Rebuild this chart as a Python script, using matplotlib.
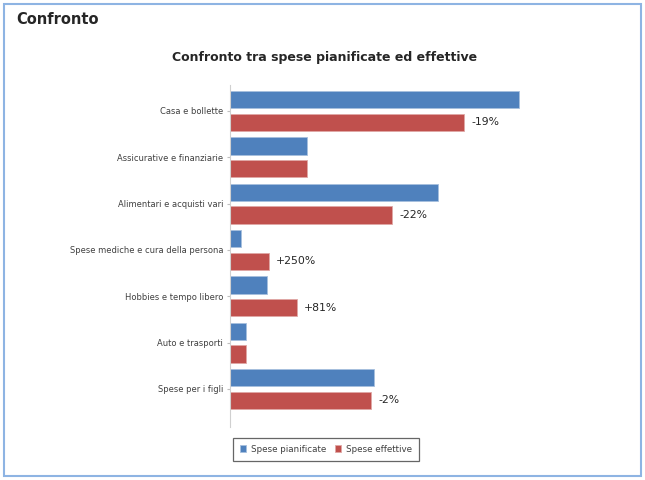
import matplotlib.pyplot as plt
from matplotlib.patches import Rectangle
import numpy as np

categorie = ["Casa e bollette", "Assicurative e finanziarie", "Alimentari e acquisti vari",
             "Spese mediche e cura della persona", "Hobbies e tempo libero",
             "Auto e trasporti", "Spese per i figli"]
pianificate = [2890, 770, 2080, 110, 370, 160, 1440]
effettive = [2340, 770, 1620, 385, 670, 160, 1410]
variazioni = ["-19%", "", "-22%", "+250%", "+81%", "", "-2%"]

blu = "#4F81BD"
rosso = "#C0504D"

fig = plt.figure(figsize=(6.45, 4.8), dpi=100)

# cornice esterna
fig.patches.append(Rectangle((4 / 645, 4 / 480), 637 / 645, 472 / 480, transform=fig.transFigure,
                             fill=False, edgecolor="#8EB4E3", linewidth=1.5))
fig.text(16 / 645, 1 - 20 / 480, "Confronto", fontsize=10.5, fontweight="bold",
         color="#262626", va="center", ha="left")
fig.text(325 / 645, 1 - 58 / 480, "Confronto tra spese pianificate ed effettive", fontsize=9,
         fontweight="bold", color="#262626", va="center", ha="center")

ax = fig.add_axes([230 / 645, 53 / 480, 370 / 645, 342 / 480])
y = np.arange(len(categorie))
h = 0.37
ax.barh(y - 0.245, pianificate, height=h, color=blu, edgecolor="#A7BFDE", linewidth=0.6,
        label="Spese pianificate")
ax.barh(y + 0.245, effettive, height=h, color=rosso, edgecolor="#E0A8A6", linewidth=0.6,
        label="Spese effettive")

for i, txt in enumerate(variazioni):
    if txt:
        ax.text(effettive[i] + 70, y[i] + 0.245, txt, fontsize=7.8, color="#262626",
                va="center", ha="left")

ax.set_xlim(0, 3700)
ax.set_ylim(6.82, -0.56)
ax.set_yticks(y)
ax.set_yticklabels(categorie, fontsize=6, color="#404040")
ax.tick_params(axis="y", length=2, color="#BFBFBF", pad=3)
ax.set_xticks([])
for s in ["top", "right", "bottom"]:
    ax.spines[s].set_visible(False)
ax.spines["left"].set_color("#D0D0D0")
ax.spines["left"].set_linewidth(0.8)

leg = fig.legend(loc="center", bbox_to_anchor=(326 / 645, 1 - 449 / 480), ncol=2, fontsize=6.3,
                 frameon=True, fancybox=False, edgecolor="#404040", handlelength=0.7,
                 handleheight=0.7, handletextpad=0.6, columnspacing=1.0, borderpad=0.8)
leg.get_frame().set_linewidth(0.9)
for t in leg.get_texts():
    t.set_color("#404040")

fig.savefig("out.png", dpi=100)
